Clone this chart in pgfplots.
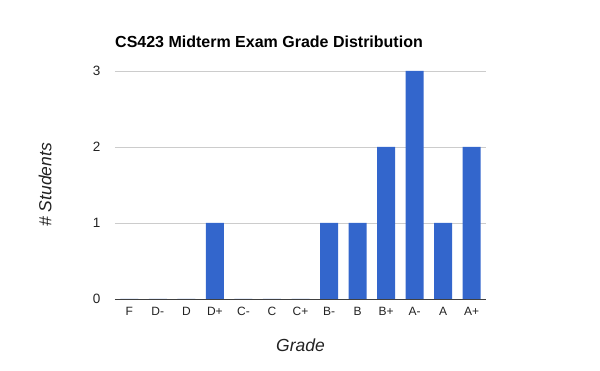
\documentclass[border=0pt]{standalone}
\usepackage{pgfplots}
\pgfplotsset{compat=1.18}
\usepackage{fontspec}
\setmainfont{Liberation Sans}
\definecolor{barblue}{HTML}{3366CC}
\definecolor{gridgray}{HTML}{CCCCCC}
\definecolor{txt}{HTML}{222222}
\begin{document}
\begin{tikzpicture}
\path[use as bounding box] (0pt,0pt) rectangle (600pt,371pt);
\begin{axis}[
  at={(115pt,72pt)}, anchor=south west,
  scale only axis, width=371pt, height=228pt,
  xmin=-0.5, xmax=12.5, ymin=0, ymax=3,
  xtick={0,...,12},
  xticklabels={F,D-,D,D+,C-,C,C+,B-,B,B+,A-,A,A+},
  ytick={0,1,2,3},
  ymajorgrids, grid style={gridgray, line width=0.8pt},
  axis line style={draw=none},
  major tick length=0pt,
  ticklabel style={text=txt},
  xticklabel style={font=\fontsize{12}{14}\selectfont, yshift=-5pt},
  yticklabel style={font=\fontsize{13.5}{16}\selectfont, xshift=-11pt},
  /pgf/number format/assume math mode=true,
  clip=false,
]
\addplot[ybar, bar width=18pt, fill=barblue, draw=none] coordinates {
(0,0) (1,0) (2,0) (3,1) (4,0) (5,0) (6,0) (7,1) (8,1) (9,2) (10,3) (11,1) (12,2)
};
\draw[color=black!75, line width=0.8pt] (rel axis cs:0,0) -- (rel axis cs:1,0);
\node[anchor=base west, font=\fontsize{16}{18}\selectfont\bfseries, inner sep=0pt] at ([yshift=23pt]rel axis cs:0,1) {CS423 Midterm Exam Grade Distribution};
\node[font=\fontsize{17.5}{20}\selectfont\itshape, text=txt, inner sep=0pt] at ([yshift=-46pt]rel axis cs:0.5,0) {Grade};
\node[font=\fontsize{17.5}{20}\selectfont\itshape, text=txt, inner sep=0pt, rotate=90] at ([xshift=-70pt]rel axis cs:0,0.5) {\# Students};
\end{axis}
\end{tikzpicture}
\end{document}
